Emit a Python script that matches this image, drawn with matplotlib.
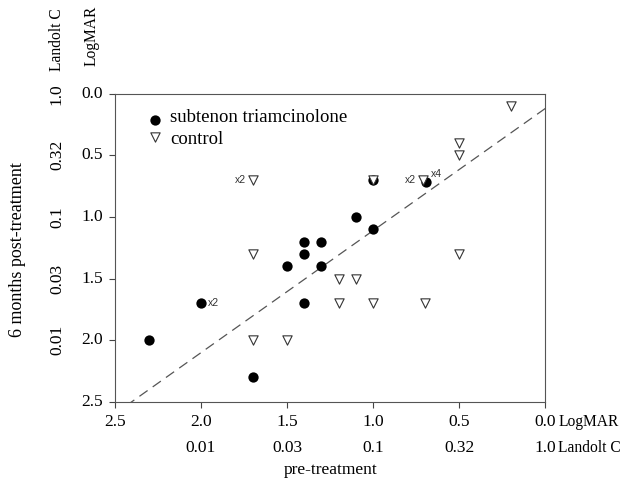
import matplotlib
matplotlib.use("Agg")
import matplotlib.pyplot as plt
from matplotlib.transforms import offset_copy
import numpy as np

# LogMAR values (pre-treatment, 6 months post-treatment)
treat_pre = [2.3, 2.0, 1.7, 1.5, 1.4, 1.4, 1.3, 1.3, 1.4, 1.1, 1.0, 1.0, 0.69]
treat_post = [2.0, 1.7, 2.3, 1.4, 1.2, 1.3, 1.2, 1.4, 1.7, 1.0, 1.1, 0.7, 0.72]
ctrl_pre = [0.2, 0.5, 0.5, 1.7, 1.0, 0.71, 1.7, 0.5, 1.2, 1.1, 1.2, 1.0, 0.7, 1.7, 1.5]
ctrl_post = [0.1, 0.4, 0.5, 0.7, 0.7, 0.7, 1.3, 1.3, 1.5, 1.5, 1.7, 1.7, 1.7, 2.0, 2.0]
fit_intercept = 0.12
fit_slope = 0.99

logmar_ticks = [2.5, 2.0, 1.5, 1.0, 0.5, 0.0]
logmar_labels = ["2.5", "2.0", "1.5", "1.0", "0.5", "0.0"]
landolt_pos = [2.0, 1.5, 1.0, 0.5, 0.0]
landolt_labels = ["0.01", "0.03", "0.1", "0.32", "1.0"]

serif = "Liberation Serif"
sans = "Liberation Sans"

fig = plt.figure(figsize=(6.21, 4.84), dpi=100)
ax = fig.add_axes([0.185, 0.1694, 0.693, 0.637])

xs = np.array([0.0, 2.5])
ax.plot(xs, fit_intercept + fit_slope * xs, ls=(0, (8, 5)), color="#555555", lw=0.9, zorder=1)

ax.scatter(treat_pre, treat_post, s=55, c="black", marker="o", zorder=3, linewidths=0)
ax.scatter(ctrl_pre, ctrl_post, s=45, facecolors="white", edgecolors="#333333",
           marker="v", linewidths=0.8, zorder=4)

ax.set_xlim(2.5, 0.0)
ax.set_ylim(2.5, 0.0)
ax.set_xticks(logmar_ticks)
ax.set_xticklabels([])
ax.set_yticks(logmar_ticks)
ax.set_yticklabels([])
ax.tick_params(direction="out", length=4, width=0.8, color="#444444")
for sp in ax.spines.values():
    sp.set_color("#555555")
    sp.set_linewidth(0.8)

fs = 12.5
fs2 = 11.2

def off(dx, dy):
    return offset_copy(ax.transData, fig=fig, x=dx, y=dy, units="dots")

# x tick label rows
for v, lab in zip(logmar_ticks, logmar_labels):
    ax.text(v, 2.5, lab, transform=off(0, -12), ha="center", va="top", fontsize=fs, family=serif)
ax.text(0.0, 2.5, "LogMAR", transform=off(13, -12), ha="left", va="top", fontsize=fs2, family=serif)
for v, lab in zip(landolt_pos, landolt_labels):
    ax.text(v, 2.5, lab, transform=off(0, -38), ha="center", va="top", fontsize=fs, family=serif)
ax.text(0.0, 2.5, "Landolt C", transform=off(13, -38), ha="left", va="top", fontsize=fs2, family=serif)
fig.text(0.532, 0.013, "pre-treatment", ha="center", va="bottom", fontsize=fs, family=serif)

# y tick label columns
for v, lab in zip(logmar_ticks, logmar_labels):
    ax.text(2.5, v, lab, transform=off(-12, 0), ha="right", va="center", fontsize=fs, family=serif)
for v, lab in zip(landolt_pos, landolt_labels):
    ax.text(2.5, v, lab, transform=off(-58, 0), ha="center", va="center", rotation=90,
            fontsize=fs, family=serif)
fig.text(92 / 621, 1 - 36 / 484, "LogMAR", rotation=90, ha="center", va="center",
         fontsize=fs2, family=serif)
fig.text(57 / 621, 1 - 40 / 484, "Landolt C", rotation=90, ha="center", va="center",
         fontsize=fs2, family=serif)
fig.text(18 / 621, 1 - 250 / 484, "6 months post-treatment", rotation=90, ha="center",
         va="center", fontsize=fs + 0.5, family=serif)

# multiplicity annotations
ann = dict(textcoords="offset points", fontsize=7.5, family=sans, color="#333333", va="center")
ax.annotate("x2", (1.7, 0.7), xytext=(-5, 0), ha="right", **ann)
ax.annotate("x2", (2.0, 1.7), xytext=(5, 0), ha="left", **ann)
ax.annotate("x2", (0.71, 0.7), xytext=(-5, 0), ha="right", **ann)
ax.annotate("x4", (0.69, 0.72), xytext=(3, 6), ha="left", **ann)

# legend
ax.scatter([2.266], [0.21], s=55, c="black", marker="o", linewidths=0)
ax.scatter([2.266], [0.355], s=45, facecolors="white", edgecolors="#333333", marker="v", linewidths=0.8)
ax.text(2.18, 0.19, "subtenon triamcinolone", ha="left", va="center", fontsize=fs + 1, family=serif)
ax.text(2.18, 0.37, "control", ha="left", va="center", fontsize=fs + 1, family=serif)

fig.savefig("out.png", dpi=100)
